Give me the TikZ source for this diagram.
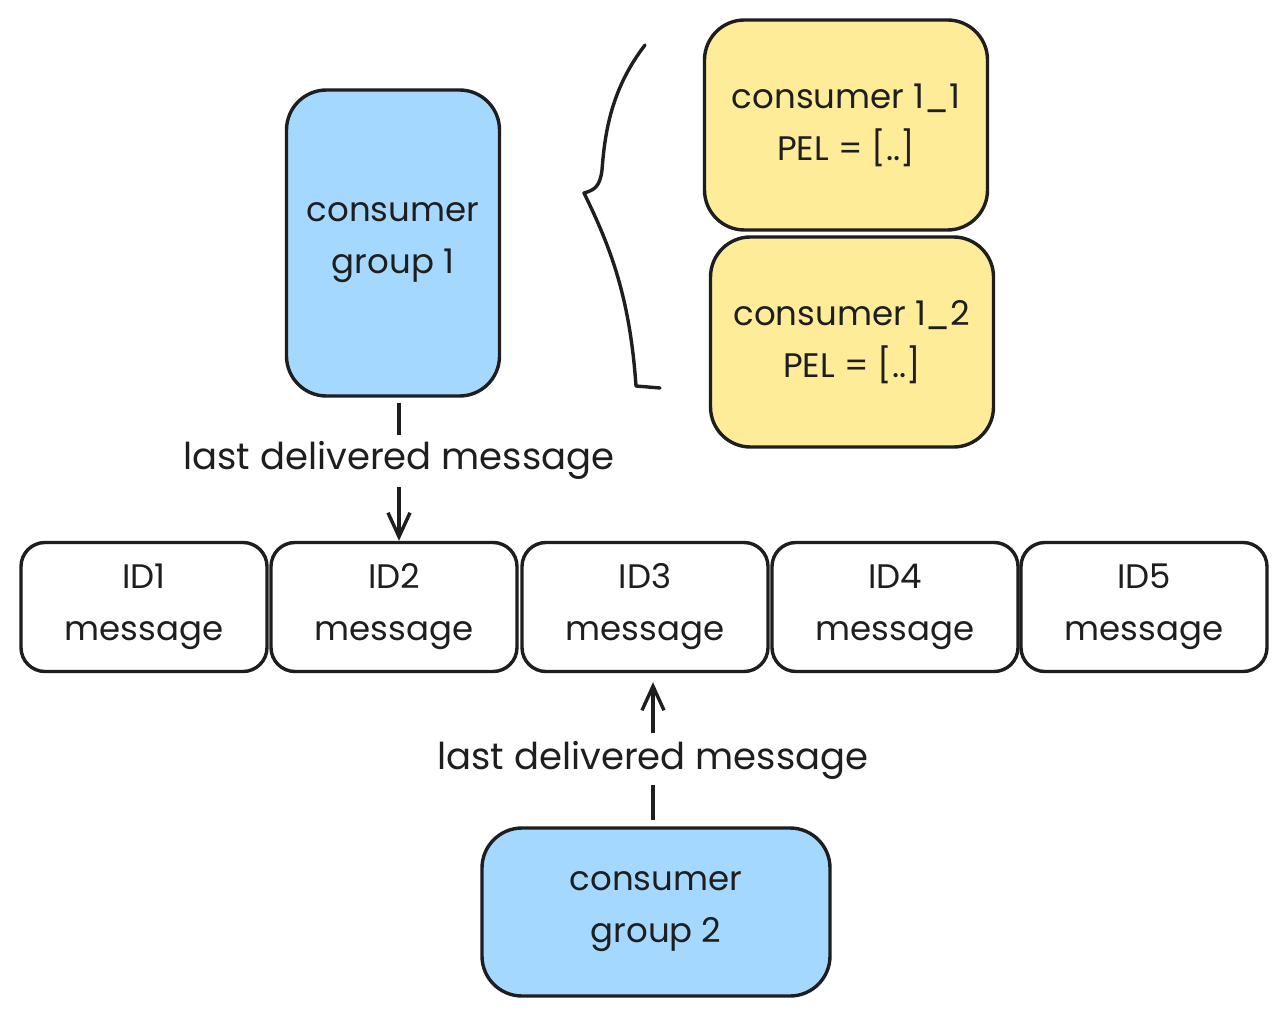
\documentclass[tikz,border=0pt]{standalone}
\usepackage{fontspec}
\setmainfont{Poppins}
\usetikzlibrary{arrows.meta}

\definecolor{ink}{HTML}{1E1E1E}
\definecolor{groupblue}{HTML}{A5D8FF}
\definecolor{peyellow}{HTML}{FFEC99}

\begin{document}
\begin{tikzpicture}[x=1pt,y=-1pt,>={Straight Barb[length=24pt,width=22pt]},line width=3.4pt,draw=ink,
    every node/.style={align=center,font=\fontsize{34}{52}\selectfont,text=ink},
    msg/.style={draw=ink,rounded corners=24pt,minimum width=246pt,minimum height=129pt},
    group/.style={draw=ink,fill=groupblue,rounded corners=40pt},
    member/.style={draw=ink,fill=peyellow,rounded corners=40pt,minimum width=283pt,minimum height=210pt},
    note/.style={inner sep=4pt,font=\fontsize{37}{44}\selectfont}]
    \useasboundingbox[fill=white] (0,0) rectangle (1287,1016);

    % message stream
    \node[msg]  (id1) at (144,607)          {ID1\\message};
    \node[msg]  (id2) [right of=id1,node distance=250pt] {ID2\\message};
    \node[msg]  (id3) [right of=id2,node distance=251pt] {ID3\\message};
    \node[msg]  (id4) [right of=id3,node distance=250pt] {ID4\\message};
    \node[msg]  (id5) [right of=id4,node distance=249pt] {ID5\\message};

    % groups and consumers
    \node[group,minimum width=213pt,minimum height=306pt] (g1) at (393,243) {consumer\\group 1};
    \node[group,minimum width=348pt,minimum height=168pt] (g2) at (656,912) {consumer\\group 2};
    \node[member] (c11) at (846,125) {consumer 1\_1\\PEL = [..]};
    \node[member] (c12) at (852,342) {consumer 1\_2\\PEL = [..]};

    % last delivered pointers
    \node[note] (l1) at (399,460) {last delivered message};
    \node[note] (l2) at (653,760) {last delivered message};
    \draw[shorten <=5pt] (l1 |- g1.south) -- (l1.north);
    \draw[->,shorten <=2pt] (l1.south) -- (l1 |- id2.north);
    \draw[shorten <=6pt] (l2 |- g2.north) -- (l2.south);
    \draw[->,shorten <=2pt,shorten >=9pt] (l2.north) -- (l2 |- id3.south);

    % brace
    \draw[line cap=round,line join=round] (645,45) .. controls (612,88) and (605,130) .. (602,170)
        .. controls (600,186) and (595,190) .. (584,193)
        .. controls (612,250) and (630,300) .. (636,386) -- (660,388);
\end{tikzpicture}
\end{document}
